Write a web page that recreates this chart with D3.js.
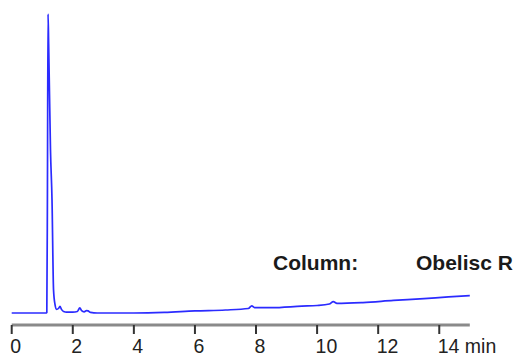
<!DOCTYPE html>
<html>
<head>
<meta charset="utf-8">
<script src="https://cdn.jsdelivr.net/npm/d3@7"></script>
<style>
  html, body { margin: 0; padding: 0; background: #fff; }
  svg { display: block; }
</style>
</head>
<body>
<svg id="chart" width="521" height="354"></svg>
<script>
// Retention time (min) and detector response (arbitrary units)
const times = [
  0, 0.5, 1.0, 1.12, 1.15, 1.17, 1.19, 1.21, 1.27, 1.32, 1.37, 1.42, 1.47,
  1.53, 1.58, 1.63, 1.70, 1.80, 2.0, 2.15, 2.23, 2.29, 2.37, 2.45, 2.50,
  2.58, 2.8, 3.0, 4.0, 5.0, 6.0, 7.0, 7.75, 7.86, 7.95, 8.5,
  9.5, 10.0, 10.4, 10.53, 10.65, 11.5, 12.5, 13.5, 14.3, 15.0
];
const response = [
  0, 0, 0, 0, 2, 400, 1000, 900, 545, 378, 77, 27, 12,
  15, 22, 12, 5, 3, 3, 5, 17, 8, 4, 8, 7,
  2, 0, 0, 0, 2, 7, 10, 15, 24, 18, 18,
  23, 25, 30, 38, 32, 35, 42, 48, 54, 58
];
const tickValues = [0, 2, 4, 6, 8, 10, 12, 14];
const tickLabels = ["0", "2", "4", "6", "8", "10", "12", "14 min"];
const annotation = ["Column:", "Obelisc R"];

const svg = d3.select("#chart");

const x = d3.scaleLinear().domain([0, 15]).range([11.7, 469.8]);
const y = d3.scaleLinear().domain([0, 1000]).range([313, 14]);

const data = times.map((t, i) => ({ t, v: response[i] }));

// Chromatogram trace
const line = d3.line()
  .x(d => x(d.t))
  .y(d => y(d.v))
  .curve(d3.curveMonotoneX);

svg.append("path")
  .datum(data)
  .attr("d", line)
  .attr("fill", "none")
  .attr("stroke", "#2b2bff")
  .attr("stroke-width", 1.7)
  .attr("stroke-linejoin", "round");

// Time axis
const axisY = 325;
const axis = svg.append("g").attr("class", "x-axis");

axis.append("line")
  .attr("x1", x(0)).attr("x2", x(15))
  .attr("y1", axisY).attr("y2", axisY)
  .attr("stroke", "#8a8a8a")
  .attr("stroke-width", 3);

const ticks = axis.selectAll("g.tick")
  .data(tickValues)
  .enter().append("g")
  .attr("class", "tick")
  .attr("transform", d => `translate(${x(d)},0)`);

ticks.append("line")
  .attr("y1", axisY).attr("y2", axisY + 9)
  .attr("stroke", "#333")
  .attr("stroke-width", 2);

ticks.append("text")
  .attr("x", -1.5)
  .attr("y", 353)
  .attr("text-anchor", "start")
  .attr("font-family", "Liberation Sans, Arial, sans-serif")
  .attr("font-size", 19.5)
  .attr("fill", "#222")
  .text((d, i) => tickLabels[i]);

// Column annotation
const note = svg.append("g")
  .attr("font-family", "Liberation Sans, Arial, sans-serif")
  .attr("font-weight", "bold")
  .attr("font-size", 21)
  .attr("fill", "#1a1a1a");

note.append("text").attr("x", 273).attr("y", 270).text(annotation[0]);
note.append("text").attr("x", 416).attr("y", 270).text(annotation[1]);
</script>
</body>
</html>
